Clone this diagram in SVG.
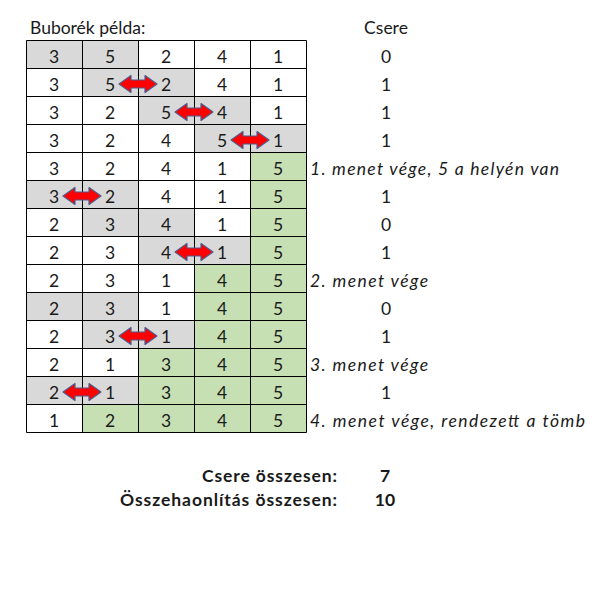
<svg xmlns="http://www.w3.org/2000/svg" width="616" height="609" viewBox="0 0 616 609">
<style>
text{font-family:Lato,"Open Sans","Liberation Sans",sans-serif;fill:#1a1a1a;font-size:17.5px}
.c{text-anchor:middle}
.i{font-style:italic;font-size:17.5px}
.b{font-weight:bold;font-size:17.5px}
.r{text-anchor:end}
.g{fill:#d9d9d9}
.v{fill:#c6e0b4}
.grid{stroke:#000;stroke-width:1;fill:none}
.sw{fill:#ff0000;stroke:#4f5b8c;stroke-width:1.2;stroke-linejoin:round}
</style>
<defs>
<path id="arr" d="M-19,0 L-7,-8.5 L-7,-4 L7,-4 L7,-8.5 L19,0 L7,8.5 L7,4 L-7,4 L-7,8.5 Z"/>
</defs>
<rect width="616" height="609" fill="#fff"/>
<text id="title" x="30" y="34">Buborék példa:</text>
<text id="csere-head" class="c" x="386" y="34">Csere</text>

<g id="fills">
<rect class="g" x="26" y="40" width="112" height="28"/>
<rect class="g" x="82" y="68" width="112" height="28"/>
<rect class="g" x="138" y="96" width="112" height="28"/>
<rect class="g" x="194" y="124" width="112" height="28"/>
<rect class="v" x="250" y="152" width="56" height="28"/>
<rect class="g" x="26" y="180" width="112" height="28"/>
<rect class="v" x="250" y="180" width="56" height="28"/>
<rect class="g" x="82" y="208" width="112" height="28"/>
<rect class="v" x="250" y="208" width="56" height="28"/>
<rect class="g" x="138" y="236" width="112" height="28"/>
<rect class="v" x="250" y="236" width="56" height="28"/>
<rect class="v" x="194" y="264" width="112" height="28"/>
<rect class="g" x="26" y="292" width="112" height="28"/>
<rect class="v" x="194" y="292" width="112" height="28"/>
<rect class="g" x="82" y="320" width="112" height="28"/>
<rect class="v" x="194" y="320" width="112" height="28"/>
<rect class="v" x="138" y="348" width="168" height="28"/>
<rect class="g" x="26" y="376" width="112" height="28"/>
<rect class="v" x="138" y="376" width="168" height="28"/>
<rect class="v" x="82" y="404" width="224" height="28"/>
</g>

<g id="grid" class="grid">
<path d="M26.5,40.5H306.5M26.5,68.5H306.5M26.5,96.5H306.5M26.5,124.5H306.5M26.5,152.5H306.5M26.5,180.5H306.5M26.5,208.5H306.5M26.5,236.5H306.5M26.5,264.5H306.5M26.5,292.5H306.5M26.5,320.5H306.5M26.5,348.5H306.5M26.5,376.5H306.5M26.5,404.5H306.5M26.5,432.5H306.5"/>
<path d="M26.5,40.5V432.5M82.5,40.5V432.5M138.5,40.5V432.5M194.5,40.5V432.5M250.5,40.5V432.5M306.5,40.5V432.5"/>
</g>

<g id="row0" class="c"><text x="54" y="62.5">3</text><text x="110" y="62.5">5</text><text x="166" y="62.5">2</text><text x="222" y="62.5">4</text><text x="278" y="62.5">1</text><text x="386" y="62.5">0</text></g>
<g id="row1" class="c"><text x="54" y="90.5">3</text><text x="110" y="90.5">5</text><text x="166" y="90.5">2</text><text x="222" y="90.5">4</text><text x="278" y="90.5">1</text><text x="386" y="90.5">1</text></g>
<g id="row2" class="c"><text x="54" y="118.5">3</text><text x="110" y="118.5">2</text><text x="166" y="118.5">5</text><text x="222" y="118.5">4</text><text x="278" y="118.5">1</text><text x="386" y="118.5">1</text></g>
<g id="row3" class="c"><text x="54" y="146.5">3</text><text x="110" y="146.5">2</text><text x="166" y="146.5">4</text><text x="222" y="146.5">5</text><text x="278" y="146.5">1</text><text x="386" y="146.5">1</text></g>
<g id="row4"><g class="c"><text x="54" y="174.5">3</text><text x="110" y="174.5">2</text><text x="166" y="174.5">4</text><text x="222" y="174.5">1</text><text x="278" y="174.5">5</text></g><text class="i" x="310" y="174.5" textLength="249" lengthAdjust="spacing">1. menet vége, 5 a helyén van</text></g>
<g id="row5" class="c"><text x="54" y="202.5">3</text><text x="110" y="202.5">2</text><text x="166" y="202.5">4</text><text x="222" y="202.5">1</text><text x="278" y="202.5">5</text><text x="386" y="202.5">1</text></g>
<g id="row6" class="c"><text x="54" y="230.5">2</text><text x="110" y="230.5">3</text><text x="166" y="230.5">4</text><text x="222" y="230.5">1</text><text x="278" y="230.5">5</text><text x="386" y="230.5">0</text></g>
<g id="row7" class="c"><text x="54" y="258.5">2</text><text x="110" y="258.5">3</text><text x="166" y="258.5">4</text><text x="222" y="258.5">1</text><text x="278" y="258.5">5</text><text x="386" y="258.5">1</text></g>
<g id="row8"><g class="c"><text x="54" y="286.5">2</text><text x="110" y="286.5">3</text><text x="166" y="286.5">1</text><text x="222" y="286.5">4</text><text x="278" y="286.5">5</text></g><text class="i" x="310" y="286.5" textLength="118" lengthAdjust="spacing">2. menet vége</text></g>
<g id="row9" class="c"><text x="54" y="314.5">2</text><text x="110" y="314.5">3</text><text x="166" y="314.5">1</text><text x="222" y="314.5">4</text><text x="278" y="314.5">5</text><text x="386" y="314.5">0</text></g>
<g id="row10" class="c"><text x="54" y="342.5">2</text><text x="110" y="342.5">3</text><text x="166" y="342.5">1</text><text x="222" y="342.5">4</text><text x="278" y="342.5">5</text><text x="386" y="342.5">1</text></g>
<g id="row11"><g class="c"><text x="54" y="370.5">2</text><text x="110" y="370.5">1</text><text x="166" y="370.5">3</text><text x="222" y="370.5">4</text><text x="278" y="370.5">5</text></g><text class="i" x="310" y="370.5" textLength="118" lengthAdjust="spacing">3. menet vége</text></g>
<g id="row12" class="c"><text x="54" y="398.5">2</text><text x="110" y="398.5">1</text><text x="166" y="398.5">3</text><text x="222" y="398.5">4</text><text x="278" y="398.5">5</text><text x="386" y="398.5">1</text></g>
<g id="row13"><g class="c"><text x="54" y="426.5">1</text><text x="110" y="426.5">2</text><text x="166" y="426.5">3</text><text x="222" y="426.5">4</text><text x="278" y="426.5">5</text></g><text class="i" x="310" y="426.5" textLength="275" lengthAdjust="spacing">4. menet vége, rendezett a tömb</text></g>

<g id="connectors" class="sw">
<use href="#arr" x="138" y="84"/>
<use href="#arr" x="194" y="112"/>
<use href="#arr" x="250" y="140"/>
<use href="#arr" x="82" y="196"/>
<use href="#arr" x="194" y="252"/>
<use href="#arr" x="138" y="336"/>
<use href="#arr" x="82" y="392"/>
</g>

<g id="totals">
<text class="b" x="202" y="482" textLength="135" lengthAdjust="spacing">Csere összesen:</text>
<text class="b c" x="385" y="482">7</text>
<text class="b" x="120" y="506" textLength="217" lengthAdjust="spacing">Összehaonlítás összesen:</text>
<text class="b c" x="385" y="506">10</text>
</g>
</svg>
